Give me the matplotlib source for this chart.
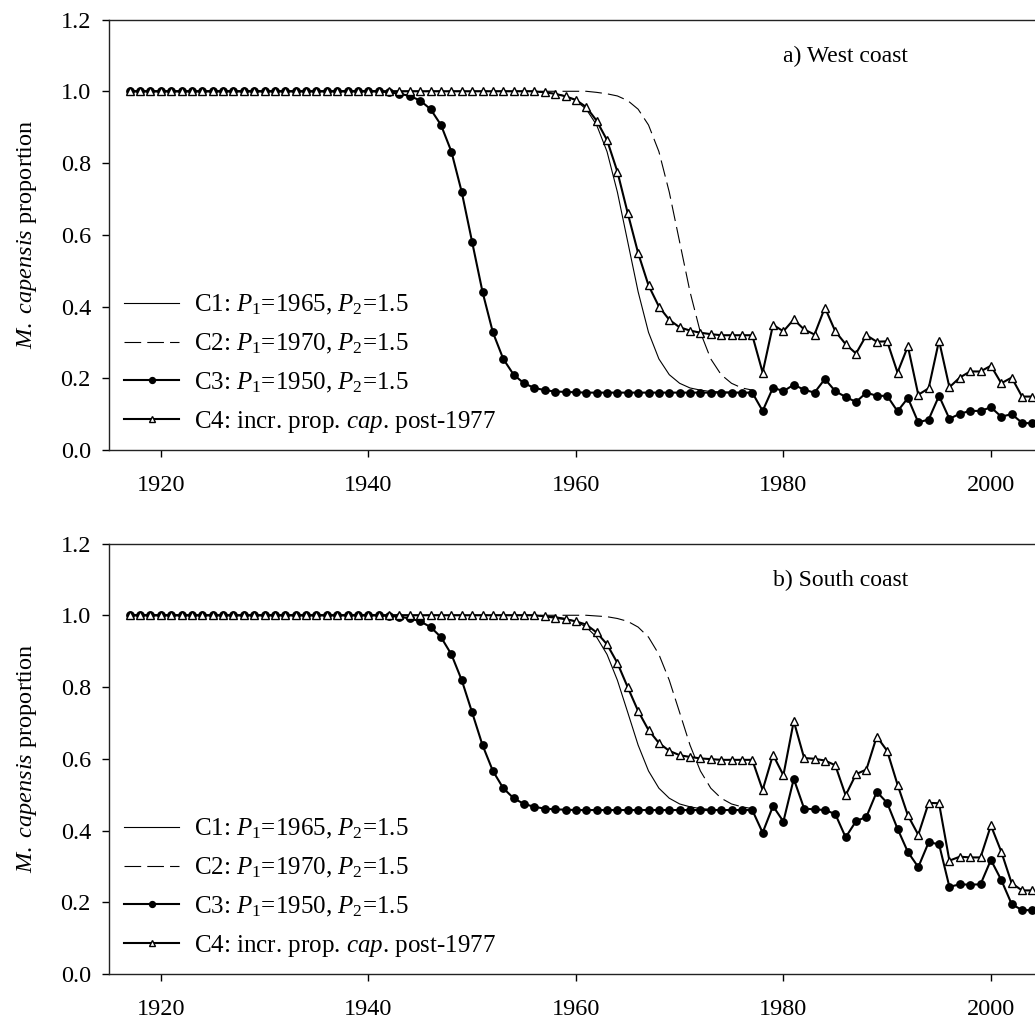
import matplotlib
matplotlib.use("Agg")
import matplotlib.pyplot as plt

plt.rcParams['font.family'] = ['Liberation Serif', 'DejaVu Serif']
plt.rcParams['mathtext.fontset'] = 'custom'
plt.rcParams['mathtext.rm'] = 'Liberation Serif'
plt.rcParams['mathtext.it'] = 'Liberation Serif:italic'

# years of the runs
years = list(range(1917, 2005))
years_c12 = list(range(1917, 1978))   # C1 and C2 lines stop where they join C3

# ---- a) West coast ----
west_c1 = [1.0, 1.0, 1.0,
           1.0, 1.0, 1.0, 1.0, 1.0, 1.0, 1.0, 1.0, 1.0, 1.0,
           1.0, 1.0, 1.0, 1.0, 1.0, 1.0, 1.0, 1.0, 1.0, 1.0,
           1.0, 1.0, 1.0, 1.0, 1.0, 1.0, 1.0, 1.0, 1.0, 1.0,
           1.0, 1.0, 1.0, 1.0, 1.0, 1.0, 1.0, 0.997, 0.993, 0.987,
           0.974, 0.95, 0.906, 0.832, 0.719, 0.58, 0.441, 0.328, 0.254, 0.21,
           0.186, 0.173, 0.167, 0.163, 0.162, 0.161, 0.16, 0.16]
west_c2 = [1.0, 1.0, 1.0,
           1.0, 1.0, 1.0, 1.0, 1.0, 1.0, 1.0, 1.0, 1.0, 1.0,
           1.0, 1.0, 1.0, 1.0, 1.0, 1.0, 1.0, 1.0, 1.0, 1.0,
           1.0, 1.0, 1.0, 1.0, 1.0, 1.0, 1.0, 1.0, 1.0, 1.0,
           1.0, 1.0, 1.0, 1.0, 1.0, 1.0, 1.0, 1.0, 1.0, 1.0,
           1.0, 1.0, 0.997, 0.993, 0.987, 0.974, 0.95, 0.906, 0.832, 0.719,
           0.58, 0.441, 0.328, 0.254, 0.21, 0.186, 0.173, 0.167]
west_c3 = [1.0, 1.0, 1.0,
           1.0, 1.0, 1.0, 1.0, 1.0, 1.0, 1.0, 1.0, 1.0, 1.0,
           1.0, 1.0, 1.0, 1.0, 1.0, 1.0, 1.0, 1.0, 1.0, 1.0,
           1.0, 1.0, 0.997, 0.993, 0.987, 0.974, 0.95, 0.906, 0.832, 0.719,
           0.58, 0.441, 0.328, 0.254, 0.21, 0.186, 0.173, 0.167, 0.163, 0.162,
           0.161, 0.16, 0.16, 0.16, 0.16, 0.16, 0.16, 0.16, 0.16, 0.16,
           0.16, 0.16, 0.16, 0.16, 0.16, 0.16, 0.16, 0.16, 0.109, 0.174,
           0.164, 0.182, 0.168, 0.160, 0.198, 0.164, 0.148, 0.134, 0.160, 0.151,
           0.151, 0.108, 0.145, 0.077, 0.085, 0.151, 0.087, 0.101, 0.109, 0.109,
           0.119, 0.093, 0.100, 0.076, 0.074]
west_c4 = [1.0, 1.0, 1.0,
           1.0, 1.0, 1.0, 1.0, 1.0, 1.0, 1.0, 1.0, 1.0, 1.0,
           1.0, 1.0, 1.0, 1.0, 1.0, 1.0, 1.0, 1.0, 1.0, 1.0,
           1.0, 1.0, 1.0, 1.0, 1.0, 1.0, 1.0, 1.0, 1.0, 1.0,
           1.0, 1.0, 1.0, 1.0, 1.0, 1.0, 1.0, 0.997, 0.993, 0.986,
           0.976, 0.956, 0.918, 0.864, 0.776, 0.66, 0.549, 0.459, 0.40, 0.363,
           0.342, 0.333, 0.327, 0.323, 0.32, 0.32, 0.32, 0.32, 0.216, 0.349,
           0.331, 0.364, 0.336, 0.322, 0.397, 0.331, 0.295, 0.269, 0.320, 0.302,
           0.303, 0.216, 0.289, 0.154, 0.172, 0.305, 0.175, 0.202, 0.219, 0.219,
           0.235, 0.186, 0.202, 0.149, 0.149]

# ---- b) South coast ----
south_c1 = [1.0, 1.0, 1.0,
            1.0, 1.0, 1.0, 1.0, 1.0, 1.0, 1.0, 1.0, 1.0, 1.0,
            1.0, 1.0, 1.0, 1.0, 1.0, 1.0, 1.0, 1.0, 1.0, 1.0,
            1.0, 1.0, 1.0, 1.0, 1.0, 1.0, 1.0, 1.0, 1.0, 1.0,
            1.0, 1.0, 1.0, 1.0, 1.0, 1.0, 1.0, 0.998, 0.996, 0.991,
            0.983, 0.967, 0.939, 0.891, 0.819, 0.729, 0.638, 0.566, 0.518, 0.490,
            0.474, 0.466, 0.461, 0.459, 0.458, 0.457, 0.457, 0.457]
south_c2 = [1.0, 1.0, 1.0,
            1.0, 1.0, 1.0, 1.0, 1.0, 1.0, 1.0, 1.0, 1.0, 1.0,
            1.0, 1.0, 1.0, 1.0, 1.0, 1.0, 1.0, 1.0, 1.0, 1.0,
            1.0, 1.0, 1.0, 1.0, 1.0, 1.0, 1.0, 1.0, 1.0, 1.0,
            1.0, 1.0, 1.0, 1.0, 1.0, 1.0, 1.0, 1.0, 1.0, 1.0,
            1.0, 1.0, 0.998, 0.996, 0.991, 0.983, 0.967, 0.939, 0.891, 0.819,
            0.729, 0.638, 0.566, 0.518, 0.490, 0.474, 0.466, 0.461]
south_c3 = [1.0, 1.0, 1.0,
            1.0, 1.0, 1.0, 1.0, 1.0, 1.0, 1.0, 1.0, 1.0, 1.0,
            1.0, 1.0, 1.0, 1.0, 1.0, 1.0, 1.0, 1.0, 1.0, 1.0,
            1.0, 1.0, 0.998, 0.996, 0.991, 0.983, 0.967, 0.939, 0.891, 0.819,
            0.729, 0.638, 0.566, 0.518, 0.490, 0.474, 0.466, 0.461, 0.459, 0.458,
            0.457, 0.457, 0.457, 0.457, 0.457, 0.457, 0.457, 0.457, 0.457, 0.457,
            0.457, 0.457, 0.457, 0.457, 0.457, 0.457, 0.457, 0.457, 0.394, 0.468,
            0.425, 0.544, 0.461, 0.459, 0.457, 0.446, 0.381, 0.426, 0.438, 0.508,
            0.477, 0.405, 0.340, 0.298, 0.367, 0.362, 0.243, 0.250, 0.249, 0.250,
            0.318, 0.262, 0.195, 0.178, 0.178]
south_c4 = [1.0, 1.0, 1.0,
            1.0, 1.0, 1.0, 1.0, 1.0, 1.0, 1.0, 1.0, 1.0, 1.0,
            1.0, 1.0, 1.0, 1.0, 1.0, 1.0, 1.0, 1.0, 1.0, 1.0,
            1.0, 1.0, 1.0, 1.0, 1.0, 1.0, 1.0, 1.0, 1.0, 1.0,
            1.0, 1.0, 1.0, 1.0, 1.0, 1.0, 1.0, 0.997, 0.993, 0.989,
            0.983, 0.974, 0.952, 0.919, 0.867, 0.799, 0.733, 0.680, 0.644, 0.622,
            0.610, 0.605, 0.601, 0.599, 0.597, 0.597, 0.597, 0.597, 0.513, 0.611,
            0.554, 0.705, 0.602, 0.600, 0.595, 0.582, 0.498, 0.557, 0.570, 0.662,
            0.622, 0.528, 0.442, 0.388, 0.477, 0.476, 0.316, 0.327, 0.325, 0.325,
            0.414, 0.341, 0.253, 0.233, 0.233]

labels = [r"C1: $P_1$=1965, $P_2$=1.5",
          r"C2: $P_1$=1970, $P_2$=1.5",
          r"C3: $P_1$=1950, $P_2$=1.5",
          r"C4: incr. prop. $cap$. post-1977"]
xtick_vals = [1920, 1940, 1960, 1980, 2000]
ytick_vals = [0.0, 0.2, 0.4, 0.6, 0.8, 1.0, 1.2]

fig = plt.figure(figsize=(10.35, 10.23), dpi=100)
ax_top = fig.add_axes([0.1053, 0.5601, 0.8947, 0.4208])
ax_bot = fig.add_axes([0.1053, 0.0479, 0.8947, 0.4208])

panels = [(ax_top, west_c1, west_c2, west_c3, west_c4, "a) West coast"),
          (ax_bot, south_c1, south_c2, south_c3, south_c4, "b) South coast")]

for ax, c1, c2, c3, c4, title in panels:
    l1, = ax.plot(years_c12, c1, color='black', lw=0.8)
    l2, = ax.plot(years_c12, c2, color='black', lw=0.8, dashes=(15, 5.5))
    l3, = ax.plot(years, c3, color='black', lw=1.5, marker='o', ms=5.3,
                  mfc='black', mec='black')
    l4, = ax.plot(years, c4, color='black', lw=1.5, marker='^', ms=6.0,
                  mfc='white', mec='black', mew=1.0)
    ax.set_xlim(1915, 2004.25)
    ax.set_ylim(0, 1.2)
    ax.set_xticks(xtick_vals)
    ax.set_yticks(ytick_vals)
    ax.set_yticklabels(['%.1f' % v for v in ytick_vals])
    ax.tick_params(direction='out', length=5, width=1, labelsize=17.5)
    ax.tick_params(axis='x', pad=13)
    ax.tick_params(axis='y', pad=8)
    ax.spines['right'].set_visible(False)
    for s in ['left', 'bottom', 'top']:
        ax.spines[s].set_linewidth(1.0)
        ax.spines[s].set_color('#222222')
    ax.set_ylabel(r"$M.\ capensis$ proportion", fontsize=17.5)
    ax.yaxis.set_label_coords(-0.076, 0.5)
    ax.text(0.863, 0.915, title, transform=ax.transAxes, fontsize=17,
            ha='right', va='center')
    leg = ax.legend([l1, l2, l3, l4], labels, loc='lower left',
                    bbox_to_anchor=(-0.005, -0.012), frameon=False, fontsize=18,
                    handlelength=2.2, handletextpad=0.6, labelspacing=0.58,
                    markerscale=0.8, borderpad=0.3)

fig.savefig("out.png", dpi=100)
